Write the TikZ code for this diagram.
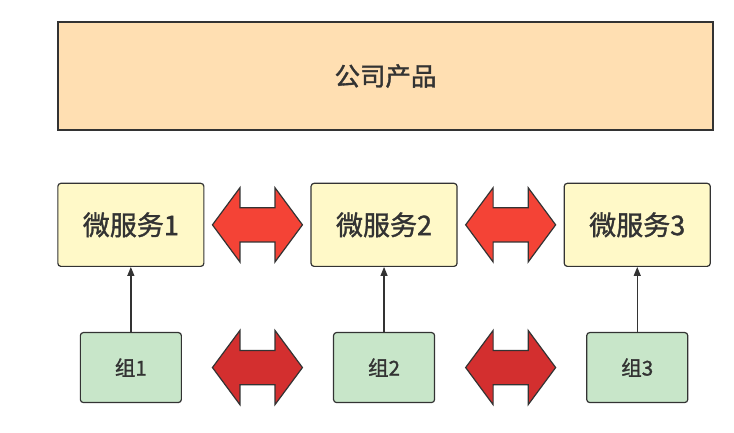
\documentclass[tikz,border=0pt]{standalone}
\usepackage{fontspec}
\usepackage{tikz}
\usetikzlibrary{arrows.meta,positioning,calc,shapes.arrows}
\newfontfamily\cjk[FakeBold=1.3]{Noto Sans CJK SC}
\definecolor{productOrange}{HTML}{FFDFB2}
\definecolor{serviceYellow}{HTML}{FFF9C8}
\definecolor{groupGreen}{HTML}{C8E6C9}
\definecolor{linkRed}{HTML}{F44336}
\definecolor{teamRed}{HTML}{D32F2F}
\definecolor{edgeGray}{HTML}{333333}

\begin{document}
\begin{tikzpicture}[
    x=1pt, y=-1pt,
    every node/.style={font=\cjk, align=center, text=edgeGray},
    product/.style={draw=edgeGray, line width=1.5pt, fill=productOrange, minimum width=655pt, minimum height=108pt, font=\cjk\fontsize{25.5}{30}\selectfont},
    service/.style={draw=edgeGray, line width=1.2pt, rounded corners=3pt, fill=serviceYellow, minimum width=146pt, minimum height=83pt, font=\cjk\fontsize{27}{31}\selectfont},
    team/.style={draw=edgeGray, line width=1.2pt, rounded corners=3pt, fill=groupGreen, minimum width=101pt, minimum height=70pt, font=\cjk\fontsize{20.5}{24}\selectfont},
    bigarrow/.style={shape=double arrow, draw=edgeGray, line width=1.2pt, inner xsep=0pt, inner ysep=16.5pt, minimum height=90pt, minimum width=73pt, double arrow head extend=20pt, double arrow tip angle=107, double arrow head indent=0pt},
    flow/.style={-{Triangle[length=9pt, width=7pt]}, line width=1.3pt, draw=edgeGray}
  ]
    \useasboundingbox (0,0) rectangle (734,433);
    \node[product] (prod) at (385.5,76) {公司产品};
    \node[service, below=52pt of prod.south west, anchor=north west] (svc1) {微服务1};
    \node[service, right=106pt of svc1] (svc2) {微服务2};
    \node[service, right=106pt of svc2] (svc3) {微服务3};
    \node[team, below=65pt of svc1] (grp1) {组1};
    \node[team, below=65pt of svc2] (grp2) {组2};
    \node[team, below=65pt of svc3] (grp3) {组3};

    \node[bigarrow, fill=linkRed] (link12) at ($(svc1.east)!0.5!(svc2.west)$) {};
    \node[bigarrow, fill=linkRed] (link23) at ($(svc2.east)!0.5!(svc3.west)$) {};
    \node[bigarrow, fill=teamRed] (team12) at ($(grp1.east)!0.5!(grp2.west)$) {};
    \node[bigarrow, fill=teamRed] (team23) at ($(grp2.east)!0.5!(grp3.west)$) {};

    \draw[flow] (grp1) -- (svc1);
    \draw[flow] (grp2) -- (svc2);
    \draw[flow] (grp3) -- (svc3);
  \end{tikzpicture}
\end{document}
